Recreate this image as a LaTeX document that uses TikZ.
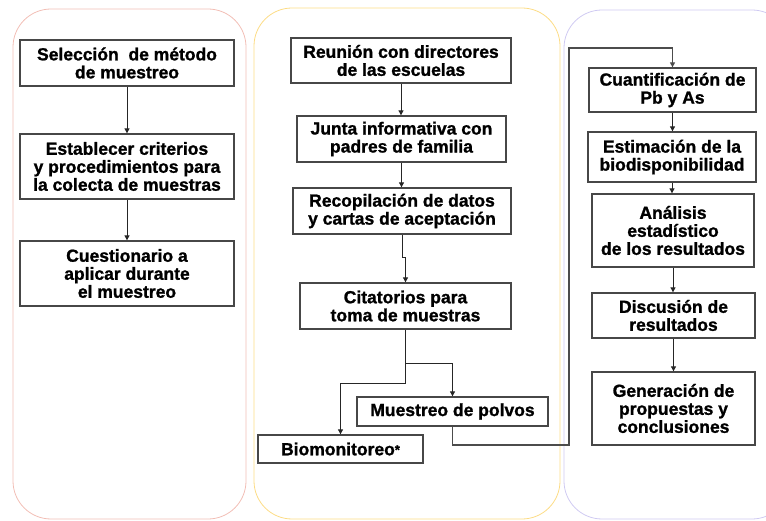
\documentclass[tikz,border=0pt]{standalone}
\usepackage{fontspec}
\setmainfont{Liberation Sans}[BoldFeatures={FakeBold=1.2}]
\usetikzlibrary{arrows.meta}
\definecolor{panelA}{HTML}{F2BEB5}
\definecolor{panelB}{HTML}{FCDC85}
\definecolor{panelC}{HTML}{CFCAF2}
\begin{document}
\begin{tikzpicture}[x=1pt,y=-1pt,
  box/.style={draw=black!72, line width=1.3pt, fill=white, align=center, inner sep=0pt,
    font=\bfseries\fontsize{17.5}{18}\selectfont},
  arr/.style={draw=black!85, line width=0.9pt, -{Triangle[length=5pt,width=5pt]}},
  panel/.style={line width=0.8pt, rounded corners=38pt}]
\useasboundingbox (0,0) rectangle (766,521);
% panels
\draw[panel, draw=panelA] (13,9) rectangle (246,519);
\draw[panel, draw=panelB] (254,8) rectangle (560,519);
\draw[panel, draw=panelC] (564,10) rectangle (790,519);
% left column
\node[box, minimum width=214pt, minimum height=46pt] (B1) at (127,63) {Selección\ \ de método\\de muestreo};
\node[box, minimum width=214pt, minimum height=65pt] (B2) at (127,166.5) {Establecer criterios\\y procedimientos para\\la colecta de muestras};
\node[box, minimum width=214pt, minimum height=65pt] (B3) at (127,273.5) {Cuestionario a\\aplicar durante\\el muestreo};
% middle column
\node[box, minimum width=220pt, minimum height=45pt] (M1) at (401,60.5) {Reunión con directores\\de las escuelas};
\node[box, minimum width=209pt, minimum height=46pt] (M2) at (401.5,139) {Junta informativa con\\padres de familia};
\node[box, minimum width=218pt, minimum height=46pt] (M3) at (402,211) {Recopilación de datos\\y cartas de aceptación};
\node[box, minimum width=211pt, minimum height=46pt] (M4) at (405.5,306) {Citatorios para\\toma de muestras};
\node[box, minimum width=191pt, minimum height=29pt] (Mu) at (452.5,411.5) {Muestreo de polvos};
\node[box, minimum width=165pt, minimum height=28pt] (Bio) at (340.5,449) {Biomonitoreo\raisebox{1pt}{\fontsize{13}{13}\selectfont *}};
% right column
\node[box, minimum width=167pt, minimum height=44pt] (R1) at (672.5,90) {Cuantificación de\\Pb y As};
\node[box, minimum width=168pt, minimum height=50pt] (R2) at (672,157) {Estimación de la\\biodisponibilidad};
\node[box, minimum width=162pt, minimum height=73pt] (R3) at (673,230.5) {Análisis\\estadístico\\de los resultados};
\node[box, minimum width=163pt, minimum height=45pt] (R4) at (673.5,315.5) {Discusión de\\resultados};
\node[box, minimum width=163pt, minimum height=73pt] (R5) at (673.5,408.5) {Generación de\\propuestas y\\conclusiones};
% connectors
\draw[arr] (B1.south) -- (B2.north);
\draw[arr] (B2.south) -- (B3.north);
\draw[arr] (M1.south) -- (M1.south |- M2.north);
\draw[arr] (M2.south) -- (M2.south |- M3.north);
\draw[arr] (M3.south) -- ++(0,23) -| (M4.north);
\draw[arr] (M4.south) -- ++(0,34) -| (Mu.north);
\draw[arr] (M4.south) -- ++(0,54) -| (Bio.north);
\coordinate (c1) at (569,445);
\coordinate (c2) at (569,48);
\draw[arr, draw=black!70, line width=1.2pt] (Mu.south) |- (c1) -- (c2) -| (R1.north);
\draw[arr] (R1.south) -- (R1.south |- R2.north);
\draw[arr] (R2.south) -- (R2.south |- R3.north);
\draw[arr] (R3.south) -- (R3.south |- R4.north);
\draw[arr] (R4.south) -- (R4.south |- R5.north);
\end{tikzpicture}
\end{document}
